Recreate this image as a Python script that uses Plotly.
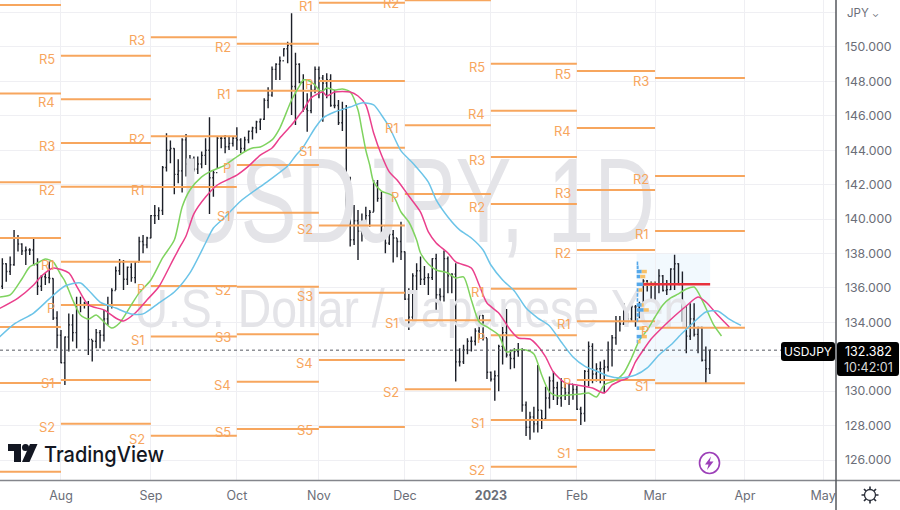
import math
import pandas as pd
import plotly.graph_objects as go

# ---------- OHLC (business days from 2022-07-11) ----------
first_day = "2022-07-11"
highs = [137.72,137.43,137.82,139.37,139.08,138.59,138.40,138.30,138.88,137.72,136.75,136.85,137.53,136.56,134.65,
 133.55,133.17,134.52,134.47,135.49,135.49,135.20,135.24,132.97,133.61,133.55,134.72,135.49,135.98,137.24,137.68,137.62,137.24,137.43,137.53,138.98,139.08,138.98,
 140.24,140.82,140.68,143.08,144.98,144.56,144.11,143.47,144.69,144.94,143.72,143.63,143.63,143.92,144.69,145.91,142.85,144.79,144.83,144.89,144.83,144.83,
 145.33,144.69,144.79,145.14,145.37,145.72,145.85,147.02,147.66,148.86,149.05,149.44,149.92,150.31,151.96,149.67,149.05,148.41,147.31,147.83,148.86,
 148.86,148.37,148.47,148.41,147.50,146.92,146.82,146.63,142.46,140.82,140.53,140.33,140.72,140.53,142.27,142.27,141.59,139.56,139.56,139.36,138.88,139.85,
 138.11,135.98,136.85,137.43,137.82,137.28,136.85,137.72,137.98,135.98,138.17,137.82,136.85,137.43,132.49,132.69,133.08,133.17,133.66,134.49,134.43,133.08,
 131.14,131.20,132.69,134.04,134.78,132.40,132.49,132.80,132.49,129.40,128.81,129.10,131.52,128.91,130.26,130.85,131.14,130.55,130.75,130.46,130.46,130.40,
 130.30,129.10,131.23,132.88,132.78,131.62,131.72,131.82,132.88,133.27,134.37,134.37,135.11,134.53,135.01,135.01,135.20,136.50,136.46,136.37,
 136.37,137.08,136.75,136.46,137.14,137.92,137.43,136.95,135.01,135.11,135.11,133.75,133.75,132.59,132.40]
lows = [135.94,136.36,136.75,137.29,138.11,137.91,137.33,137.91,137.33,135.59,135.82,136.17,136.27,134.14,132.49,
 131.62,130.36,132.30,132.88,132.49,134.58,134.81,132.10,131.72,132.49,132.49,132.88,133.85,134.81,135.88,136.75,135.88,136.17,136.36,136.27,137.53,138.01,138.30,
 138.88,139.72,139.95,140.24,142.76,143.24,141.44,142.08,141.54,142.47,142.79,142.76,142.62,142.95,143.14,140.30,141.30,142.95,144.11,143.82,144.01,144.21,
 144.01,143.82,143.92,144.40,144.63,144.98,145.18,145.76,146.44,147.11,148.08,148.08,149.44,149.05,146.05,145.47,147.89,146.24,145.08,146.15,147.31,
 147.02,145.66,147.02,146.53,146.44,145.47,145.12,140.12,138.40,138.49,137.62,138.69,138.88,139.56,140.43,141.01,139.17,138.01,138.49,137.47,137.78,137.62,
 135.30,133.56,134.14,135.88,136.17,136.17,135.59,136.46,134.57,134.43,135.21,135.69,135.69,130.56,131.43,131.58,132.15,132.30,132.65,133.00,132.95,130.70,
 130.56,129.45,130.00,131.55,131.95,131.27,131.33,132.00,128.81,127.40,127.17,127.60,127.60,127.80,128.30,129.00,129.49,129.20,129.10,129.49,129.20,129.50,
 128.90,128.04,128.23,130.27,130.46,130.56,130.46,129.88,131.14,131.43,132.69,133.46,133.85,133.95,134.04,133.75,134.24,134.60,135.79,135.30,
 135.20,135.69,135.79,135.59,135.88,135.88,136.20,134.04,132.20,132.98,133.17,132.20,131.72,130.46,131.00]
closes = [137.40,136.95,137.35,138.90,138.55,138.15,138.20,138.20,137.35,136.10,136.65,136.60,136.55,134.25,133.25,
 131.65,133.15,133.85,133.40,135.00,135.00,135.10,133.00,132.90,133.40,133.25,134.20,135.00,135.85,137.00,137.50,136.50,137.20,136.60,137.50,138.70,138.50,138.90,
 140.20,140.20,140.50,143.00,144.00,144.10,142.60,142.80,144.60,143.20,143.50,142.90,143.20,143.70,144.00,142.40,142.70,144.70,144.70,144.20,144.40,144.70,
 144.60,144.10,144.60,145.10,145.30,145.65,145.80,146.90,147.20,148.70,149.00,149.20,149.90,150.10,147.70,149.00,147.95,146.40,146.30,147.50,148.70,
 148.20,147.90,148.10,146.60,146.60,145.60,146.40,141.00,138.80,139.90,139.30,139.50,140.20,140.40,142.10,141.20,139.60,138.60,139.10,138.90,138.70,138.10,
 135.35,134.30,136.70,137.00,136.50,136.60,136.60,137.70,135.60,135.50,137.70,136.70,136.80,131.70,131.70,132.40,132.90,132.90,133.50,134.40,133.10,131.10,
 130.70,130.90,132.60,133.40,132.10,131.90,132.30,132.40,129.20,127.90,128.50,128.10,128.90,128.40,129.60,130.60,130.20,129.60,130.20,129.90,130.40,130.10,
 128.95,128.70,131.15,132.60,131.00,131.30,131.30,131.40,132.40,133.10,134.10,133.90,134.10,134.20,134.90,134.90,134.70,136.40,136.20,136.20,
 136.20,136.70,135.85,135.90,137.10,137.40,136.20,134.80,133.20,134.20,133.30,133.70,131.80,131.30,132.382]
opens = [136.10,137.40,136.95,137.35,138.90,138.55,138.15,138.20,138.20,137.35,136.10,136.65,136.60,136.55,134.25,
 133.25,131.65,133.15,133.85,133.40,135.00,135.00,135.10,133.00,132.90,133.40,133.25,134.20,135.00,135.85,137.00,137.50,136.50,137.20,136.60,137.50,138.70,138.50,
 138.90,140.20,140.20,140.50,143.00,144.00,144.10,142.60,142.80,144.60,143.20,143.50,142.90,143.20,143.70,144.00,142.40,142.70,144.70,144.70,144.20,144.40,
 144.70,144.60,144.10,144.60,145.10,145.30,145.65,145.80,146.90,147.20,148.70,149.00,149.20,149.90,150.10,147.70,149.00,147.95,146.40,146.30,147.50,
 148.70,148.20,147.90,148.10,146.60,146.60,145.60,146.40,141.00,138.80,139.90,139.30,139.50,140.20,140.40,142.10,141.20,139.60,138.60,139.10,138.90,138.70,
 138.10,135.35,134.30,136.70,137.00,136.50,136.60,136.60,137.70,135.60,135.50,137.70,136.70,136.80,131.70,131.70,132.40,132.90,132.90,133.50,134.40,133.10,
 131.10,130.70,130.90,132.60,133.40,132.10,131.90,132.30,132.40,129.20,127.90,128.50,128.10,128.90,128.40,129.60,130.60,130.20,129.60,130.20,129.90,130.40,
 130.10,128.95,128.70,131.15,132.60,131.00,131.30,131.30,131.40,132.40,133.10,134.10,133.90,134.10,134.20,134.90,134.90,134.70,136.40,136.20,
 136.20,136.20,136.70,135.85,135.90,137.10,137.40,136.20,134.80,133.20,134.20,133.30,133.70,131.80,131.30]

# ---------- moving averages: bar offset from 2022-08-01, value ----------
green_k = [-16,-13,-10,-8,-6,-4,-2,0,1,3,5,7,9,11,13,15,18,20,23,26,29,31,33,36,38,42,46,49,51,54,56,59,61,62,63,65,66,67,68,70,72,74,76,77,78,79,80,82,85,87,89,91,92,94,96,99,101,103,105,107,109,112,114,116,119,121,123,125,127,130,133,135,137,139,142,144,146,148,150,152,154,156,158,160,162,163,165,167,169]
green_v = [135.47,135.59,136.52,137.22,137.45,137.68,137.51,136.75,136.40,135.30,134.43,134.19,134.43,134.02,133.67,133.96,135.01,135.71,136.46,137.74,138.78,140.70,141.69,142.45,142.74,143.14,143.78,144.13,144.19,144.60,145.29,146.92,147.73,148.08,148.08,147.79,147.50,147.44,147.62,147.50,147.56,147.38,146.34,145.18,144.00,143.14,142.15,141.63,141.34,140.41,139.83,138.78,138.03,137.39,137.04,136.87,136.58,136.64,135.30,134.02,133.73,133.26,132.28,132.39,132.39,132.16,130.94,129.95,129.72,129.78,129.84,129.89,129.66,130.36,130.65,131.06,131.93,132.97,133.55,134.31,135.01,135.42,135.65,135.94,136.05,135.76,134.83,133.85,133.21]
pink_k = [-16,-11,-7,-5,-2,2,4,7,11,14,16,19,22,25,28,30,32,34,37,40,43,45,48,51,54,56,59,61,62,64,67,68,70,74,76,78,80,82,84,86,89,92,94,96,99,101,105,107,109,112,115,117,120,122,124,126,129,132,136,139,141,143,145,147,149,151,154,157,160,163,165,168,171]
pink_v = [134.77,135.41,136.17,136.69,137.16,136.87,136.11,135.01,134.72,134.25,134.08,134.54,135.30,136.05,137.33,138.20,139.02,140.30,141.28,141.98,142.33,142.56,143.08,143.72,144.13,144.71,145.47,146.05,146.34,147.04,147.38,147.15,147.38,147.38,147.15,146.63,145.00,143.72,142.74,142.27,141.34,140.41,139.25,138.61,138.03,137.51,137.16,136.17,135.12,134.54,133.55,133.09,133.03,132.63,131.99,131.11,130.48,130.36,130.18,129.89,130.36,130.59,130.77,131.70,132.39,133.03,133.73,134.37,134.95,135.47,135.18,134.43,133.73]
blue_k = [-16,-12,-7,-3,1,5,7,10,14,18,21,25,29,33,37,39,42,46,53,58,60,62,65,67,70,74,77,80,82,84,87,90,94,96,99,102,105,108,110,113,116,119,122,125,128,131,134,137,140,143,147,150,153,156,159,162,165,168,171,174]
blue_v = [133.09,133.90,134.54,135.36,136.11,136.29,135.88,135.18,134.83,134.49,134.49,135.12,135.76,136.87,138.61,139.48,140.12,141.05,142.21,143.08,143.67,144.19,145.29,145.87,146.22,146.51,146.75,146.63,146.05,145.35,143.96,143.26,142.15,141.11,140.12,139.37,138.90,138.20,137.33,136.46,135.82,134.83,134.25,133.79,132.86,131.99,131.46,131.17,130.88,130.77,130.94,131.35,132.10,132.68,133.38,134.02,134.60,134.66,134.19,133.82]

# ---------- monthly pivots ----------
pivot_edges = ["2022-07-01","2022-08-01","2022-09-01","2022-10-03","2022-11-01","2022-12-01","2023-01-02","2023-02-01","2023-03-01","2023-04-03"]
pivot_levels = [
 [152.44,147.29,142.14,138.90,133.73,130.48,125.32],
 [149.49,146.96,144.42,141.88,137.52,135.01,130.65,128.11],
 [150.56,144.81,141.86,136.11,133.17,127.41],
 [150.19,147.46,143.14,140.37,136.07,133.31,130.55,127.80],
 [152.57,148.02,144.15,139.62,135.72,131.81,127.92],
 [152.72,145.45,141.46,134.12,130.11],
 [149.03,146.30,143.61,140.88,135.95,133.25,128.33,125.61],
 [148.60,145.29,141.69,138.20,134.07,130.65,126.58],
 [148.20,142.50,139.31,133.69,130.46],
]
pivot_names = [
 [],
 ["R5","R4","R3","R2","R1","P","S1","S2"],
 ["R3","R2","R1","P","S1","S2"],
 ["R2","R1","P","S1","S2","S3","S4","S5"],
 ["R1","P","S1","S2","S3","S4","S5"],
 ["R2","R1","P","S1","S2"],
 ["R5","R4","R3","R2","R1","P","S1","S2"],
 ["R5","R4","R3","R2","R1","P","S1"],
 ["R3","R2","R1","P","S1"],
]

# ---------- volume profile ----------
vp_price  = [137.43,137.20,136.95,136.66,136.21,135.88,135.59,135.30,135.01,134.72,134.43,134.14,133.66,133.17,132.88]
vp_blue   = [0.4,0.5,1.3,0.9,1.8,0.5,0.4,0.4,1.3,1.8,0.7,0.4,0.7,1.3,0.3]
vp_yellow = [0,0,1.3,1.3,3.0,1.0,0,0,0.5,1.3,0,0,1.3,1.3,0.7]
poc_price = 136.21

# ---------- axes ----------
tick_dates = ["2022-08-01","2022-09-01","2022-10-03","2022-11-01","2022-12-01","2023-01-02","2023-02-01","2023-03-01","2023-04-03","2023-05-01"]
tick_names = ["Aug","Sep","Oct","Nov","Dec","<b>2023</b>","Feb","Mar","Apr","May"]
price_ticks = [126,128,130,132,134,136,138,140,142,144,146,148,150,152]
last_price = 132.382

PIVOT = "#f7a65e"
GRID = "#efeff3"
TXT = "#6b6e78"
W, H, R, B = 900, 510, 64, 29
PW, PH = W - R, H - B
BASE = pd.Timestamp("2022-08-01")

def at(k):
    whole = math.floor(k)
    return BASE + pd.offsets.BDay(whole) + pd.Timedelta(hours=24 * (k - whole))

def px(x):
    return x / PW

def py(y):
    return 1 - y / PH

def paper_path(points):
    return "M" + " L".join(f"{px(a):.5f},{py(b):.5f}" for a, b in points) + " Z"

def round_rect(x0, y0, x1, y1, r=3):
    return (f"M{px(x0+r):.5f},{py(y0):.5f} L{px(x1-r):.5f},{py(y0):.5f} "
            f"Q{px(x1):.5f},{py(y0):.5f} {px(x1):.5f},{py(y0+r):.5f} L{px(x1):.5f},{py(y1-r):.5f} "
            f"Q{px(x1):.5f},{py(y1):.5f} {px(x1-r):.5f},{py(y1):.5f} L{px(x0+r):.5f},{py(y1):.5f} "
            f"Q{px(x0):.5f},{py(y1):.5f} {px(x0):.5f},{py(y1-r):.5f} L{px(x0):.5f},{py(y0+r):.5f} "
            f"Q{px(x0):.5f},{py(y0):.5f} {px(x0+r):.5f},{py(y0):.5f} Z")

dates = pd.bdate_range(first_day, periods=len(closes))
fig = go.Figure()

# watermark drawn first so that it stays behind the marks
fig.add_trace(go.Scatter(x=[at(91.2)], y=[140.41], mode="text", text=["USDJPY, 1D"],
    textposition="middle center", hoverinfo="skip",
    textfont=dict(family="Liberation Sans", size=120, color="#e4e4e8")))
fig.add_trace(go.Scatter(x=[at(89.8)], y=[134.48], mode="text", text=["U.S. Dollar / Japanese Yen"],
    textposition="middle center", hoverinfo="skip",
    textfont=dict(family="Liberation Sans", size=53, color="#e4e4e8")))

# pivots
px_x, px_y = [], []
for i, levels in enumerate(pivot_levels):
    for v in levels:
        px_x += [pivot_edges[i], pivot_edges[i + 1], None]
        px_y += [v, v, None]
fig.add_trace(go.Scatter(x=px_x, y=px_y, mode="lines", line=dict(color=PIVOT, width=2), hoverinfo="skip"))

# bars
fig.add_trace(go.Ohlc(x=dates, open=opens, high=highs, low=lows, close=closes, tickwidth=0.3,
    increasing=dict(line=dict(color="#1c1f28", width=1.4)),
    decreasing=dict(line=dict(color="#1c1f28", width=1.4))))

# moving averages
for ks, vs, col in [(green_k, green_v, "#7fd35f"), (pink_k, pink_v, "#ea3f8c"), (blue_k, blue_v, "#6cc4e8")]:
    fig.add_trace(go.Scatter(x=[at(k) for k in ks], y=vs, mode="lines",
        line=dict(color=col, width=1.5, shape="spline", smoothing=0.7), hoverinfo="skip"))

# volume profile
bx, by, yx, yy = [], [], [], []
VP0 = 147.3
for p, b, c in zip(vp_price, vp_blue, vp_yellow):
    bx += [at(VP0), at(VP0 + b), None]; by += [p, p, None]
    if c:
        yx += [at(VP0 + b), at(VP0 + b + c), None]; yy += [p, p, None]
fig.add_trace(go.Scatter(x=bx, y=by, mode="lines", line=dict(color="#55a8ea", width=3.5), hoverinfo="skip"))
fig.add_trace(go.Scatter(x=yx, y=yy, mode="lines", line=dict(color="#f8c066", width=3.5), hoverinfo="skip"))
fig.add_trace(go.Scatter(x=[at(149), at(166.1)], y=[poc_price, poc_price], mode="lines",
    line=dict(color="#e8303c", width=2.5), hoverinfo="skip"))

# gear outline: eight short teeth around the ring
GX, GY = 870, 495
teeth = "".join(
    f"M{px(GX + 5.5 * math.cos(a)):.5f},{py(GY + 5.5 * math.sin(a)):.5f} "
    f"L{px(GX + 8.5 * math.cos(a)):.5f},{py(GY + 8.5 * math.sin(a)):.5f} "
    for a in [i * math.pi / 4 for i in range(8)])

shapes = [
    dict(type="rect", xref="x", yref="y", x0=at(VP0), x1=at(166.1), y0=130.4, y1=138.0,
         fillcolor="rgba(33,150,243,0.06)", line_width=0, layer="below"),
    dict(type="line", xref="paper", yref="y", x0=0, x1=px(782), y0=last_price, y1=last_price,
         line=dict(color="#555861", width=1, dash="dot")),
    dict(type="line", xref="paper", yref="paper", x0=0, x1=px(900), y0=py(480.5), y1=py(480.5),
         line=dict(color="#84868c", width=1.5)),
    dict(type="line", xref="paper", yref="paper", x0=1, x1=1, y0=py(0), y1=py(510),
         line=dict(color="#55575d", width=1.5)),
    dict(type="path", xref="paper", yref="paper", path=round_rect(781, 342, 835, 361),
         fillcolor="#000000", line_width=0),
    dict(type="path", xref="paper", yref="paper", path=round_rect(837, 342, 899, 376),
         fillcolor="#000000", line_width=0),
    # TradingView mark
    dict(type="path", xref="paper", yref="paper",
         path=paper_path([(8, 444), (21, 444), (21, 462), (14, 462), (14, 451), (8, 451)]),
         fillcolor="#131722", line_width=0),
    dict(type="path", xref="paper", yref="paper",
         path=paper_path([(30, 444), (37.5, 444), (29.5, 462), (22, 462)]),
         fillcolor="#131722", line_width=0),
    dict(type="circle", xref="paper", yref="paper", x0=px(22), x1=px(29), y0=py(451), y1=py(444),
         fillcolor="#131722", line_width=0),
    # lightning badge
    dict(type="circle", xref="paper", yref="paper", x0=px(699.5), x1=px(719.5), y0=py(473.5), y1=py(452.5),
         line=dict(color="#9c3fb8", width=1.6), fillcolor="white"),
    dict(type="path", xref="paper", yref="paper",
         path=paper_path([(711, 456.5), (705, 464.5), (708.5, 464.5), (707, 470), (713.5, 461.5), (709.7, 461.5)]),
         fillcolor="#9c3fb8", line_width=0),
    # gear
    dict(type="circle", xref="paper", yref="paper", x0=px(GX - 5.5), x1=px(GX + 5.5), y0=py(GY + 5.5), y1=py(GY - 5.5),
         line=dict(color="#2a2e39", width=1.3)),
    dict(type="path", xref="paper", yref="paper", path=teeth, line=dict(color="#2a2e39", width=1.6)),
]

annotations = []
for i, names in enumerate(pivot_names):
    for name, v in zip(names, pivot_levels[i]):
        annotations.append(dict(x=pivot_edges[i], y=v, xref="x", yref="y", text=name, showarrow=False,
            xanchor="right", yanchor="middle", xshift=-4, yshift=-3,
            font=dict(family="Inter", size=13, color=PIVOT)))

def label(x, y, text, size, color, anchor="left", family="Inter", weight=None):
    annotations.append(dict(x=px(x), y=py(y), xref="paper", yref="paper", text=text, showarrow=False,
        xanchor=anchor, yanchor="middle", font=dict(family=family, size=size, color=color, weight=weight)))

label(103.5, 453.5, "TradingView", 22, "#131722", "center", weight=500)
label(808, 351.5, "USDJPY", 12, "#ffffff", "center")
label(868, 351, f"{last_price:.3f}", 12.5, "#ffffff", "center")
label(868, 367, "10:42:01", 12.5, "#d8d8d8", "center")
label(845, 13, "JPY <span style='font-size:9px'>⌄</span>", 11.5, TXT)

fig.update_layout(
    width=W, height=H, margin=dict(l=0, r=R, t=0, b=B), showlegend=False,
    paper_bgcolor="white", plot_bgcolor="white", shapes=shapes, annotations=annotations,
    font=dict(family="Inter", color=TXT),
    xaxis=dict(type="date", range=[at(-15.6), at(198.3)], rangeslider=dict(visible=False),
        rangebreaks=[dict(bounds=["sat", "mon"])], tickmode="array", tickvals=tick_dates, ticktext=tick_names,
        showgrid=True, gridcolor=GRID, gridwidth=1.3, zeroline=False, showline=False, ticks="",
        ticklabelstandoff=5, tickfont=dict(family="Inter", size=12.5, color=TXT)),
    yaxis=dict(side="right", range=[124.78, 152.73], tickmode="array", tickvals=price_ticks,
        ticktext=[f"{v:.3f}" if v != 152 else "" for v in price_ticks],
        showgrid=True, gridcolor=GRID, gridwidth=1.3, zeroline=False, showline=False, ticks="",
        ticklabelstandoff=8, tickfont=dict(family="Inter", size=12.3, color=TXT)),
)

# squeeze the watermark and wordmark to the reference's narrow letterforms (the text stays real text)
post = """
document.body.style.margin='0';
var fit={'USDJPY, 1D':475,'U.S. Dollar / Japanese Yen':555,'TradingView':120};
document.querySelectorAll('svg text').forEach(function(t){
  var w=fit[t.textContent];
  if(w){t.setAttribute('textLength',w);t.setAttribute('lengthAdjust','spacingAndGlyphs');}
});
"""
fig.write_html("out.html", config=dict(displayModeBar=False), post_script=post)
